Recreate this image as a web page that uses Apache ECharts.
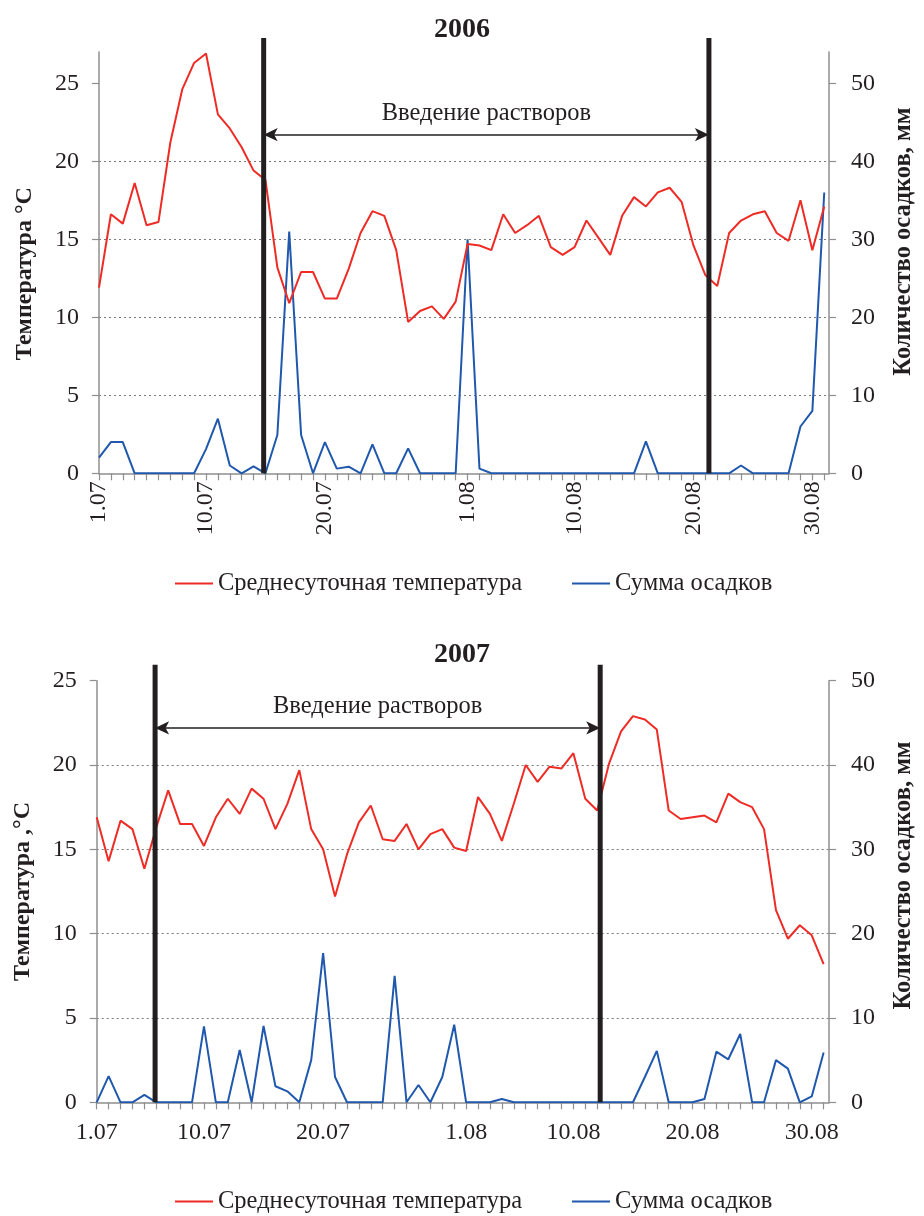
<!DOCTYPE html>
<html><head><meta charset="utf-8">
<script src="https://cdn.jsdelivr.net/npm/echarts@6/dist/echarts.min.js"></script>
<style>html,body{margin:0;padding:0;background:#fff}#c{width:924px;height:1216px}</style>
</head><body><div id="c"></div><script>
// ---- data ----
const dates = ['1.07','2.07','3.07','4.07','5.07','6.07','7.07','8.07','9.07','10.07',
  '11.07','12.07','13.07','14.07','15.07','16.07','17.07','18.07','19.07','20.07',
  '21.07','22.07','23.07','24.07','25.07','26.07','27.07','28.07','29.07','30.07','31.07',
  '1.08','2.08','3.08','4.08','5.08','6.08','7.08','8.08','9.08','10.08',
  '11.08','12.08','13.08','14.08','15.08','16.08','17.08','18.08','19.08','20.08',
  '21.08','22.08','23.08','24.08','25.08','26.08','27.08','28.08','29.08','30.08','31.08'];
const tickLabels = ['1.07','10.07','20.07','1.08','10.08','20.08','30.08'];
const tempTicks = [0,5,10,15,20,25];
const precipTicks = [0,10,20,30,40,50];

const temp2006 = [11.9,16.6,16.0,18.6,15.9,16.1,21.2,24.6,26.3,26.9,
  23.0,22.1,20.9,19.4,18.8,13.2,10.9,12.9,12.9,11.2,
  11.2,13.1,15.4,16.8,16.5,14.3,9.7,10.4,10.7,9.9,
  11.0,14.7,14.6,14.3,16.6,15.4,15.9,16.5,14.5,14.0,
  14.5,16.2,15.1,14.0,16.5,17.7,17.1,18.0,18.3,17.4,
  14.6,12.7,12.0,15.4,16.2,16.6,16.8,15.4,14.9,17.5,
  14.3,17.1];
const precip2006 = [2,4,4,0,0,0,0,0,0,3.1,
  7,1,0,0.9,0,4.9,31,4.9,0,4,
  0.6,0.85,0,3.7,0,0,3.2,0,0,0,
  0,30,0.6,0,0,0,0,0,0,0,
  0,0,0,0,0,0,4.1,0,0,0,
  0,0,0,0,1.0,0,0,0,0,6,
  8,36];
const temp2007 = [16.9,14.3,16.7,16.2,13.85,16.3,18.5,16.5,16.5,15.2,
  16.9,18.0,17.1,18.6,18.0,16.2,17.7,19.7,16.2,15.0,
  12.2,14.7,16.6,17.6,15.6,15.5,16.5,15.0,15.9,16.2,
  15.1,14.9,18.1,17.1,15.5,17.7,20.0,19.0,19.9,19.8,
  20.7,18.0,17.3,20.1,22.0,22.9,22.7,22.1,17.3,16.8,
  16.9,17.0,16.6,18.3,17.8,17.5,16.2,11.4,9.7,10.5,
  9.9,8.2];
const precip2007 = [0,3.1,0,0,0.87,0,0,0,0,9.0,
  0,0,6.2,0,9.05,1.9,1.3,0,5.0,17.7,
  3.0,0,0,0,0,15.0,0,2.05,0,3.0,
  9.2,0,0,0,0.4,0,0,0,0,0,
  0,0,0,0,0,0,3.0,6.1,0,0,
  0,0.4,6.0,5.1,8.1,0,0,5.0,4.0,0,
  0.7,5.9];
// treatment period (day position on the date axis)
const period2006 = [13.85, 51.3];
const period2007 = [4.9, 42.25];
const periodLabel = 'Введение растворов';
const years = ['2006', '2007'];
const tempAxisNames = ['Температура °С', 'Температура ,°С'];
const precipAxisName = 'Количество осадков, мм';
const seriesNames = ['Среднесуточная температура', 'Сумма осадков'];

// ---- chart ----
const FONT = 'Liberation Serif';
const INK = '#231f20';
const AXIS = '#8f8f8f';
const RED = '#ee2b25';
const BLUE = '#1f58ad';

const panels = [
  {temps: temp2006, precs: precip2006, period: period2006, tMax: 27, pMax: 54, xMax: 61.4, arrowY: 21.7, lineTop: 27.9, rotate: 90,
   grid: {left: 99, top: 52, width: 731, height: 421.3}, titleTop: 11, legendTop: 566,
   leftPad: [0, 22, 0, 0], rightPad: [0, 0, 0, 42]},
  {temps: temp2007, precs: precip2007, period: period2007, tMax: 25, pMax: 50, xMax: 61.45, arrowY: 22.2, lineTop: 25.94, rotate: 0,
   grid: {left: 96.7, top: 680.7, width: 733.3, height: 421.6}, titleTop: 636, legendTop: 1184,
   leftPad: [0, 0, 0, 0], rightPad: [0, 0, 0, 32]}
];

const option = {
  animation: false,
  backgroundColor: '#fff',
  textStyle: {fontFamily: FONT, color: INK},
  title: [], grid: [], xAxis: [], yAxis: [], series: [], legend: []
};

const labelIdx = tickLabels.map(t => dates.indexOf(t));
const dayIdx = dates.map((d, i) => i);

panels.forEach((p, k) => {
  option.title.push({text: years[k], left: 'center', top: p.titleTop,
    textStyle: {fontFamily: FONT, fontSize: 28, fontWeight: 'bold', color: INK}});
  option.grid.push(Object.assign({containLabel: false}, p.grid));
  option.xAxis.push({
    type: 'value', gridIndex: k, min: 0, max: p.xMax, interval: 1,
    axisLine: {show: true, lineStyle: {color: AXIS, width: 1.5}},
    axisTick: {show: true, length: 7, lineStyle: {color: AXIS, width: 1.2}, customValues: dayIdx},
    splitLine: {show: false},
    axisLabel: {
      customValues: labelIdx, rotate: p.rotate, margin: p.rotate ? 8 : 18,
      fontFamily: FONT, fontSize: 24, color: INK,
      formatter: v => { const i = Math.round(v); return (Math.abs(v - i) < 1e-6 && tickLabels.includes(dates[i])) ? dates[i] : ''; }
    }
  });
  option.yAxis.push({
    type: 'value', gridIndex: k, position: 'left', min: 0, max: p.tMax, interval: 5,
    name: tempAxisNames[k], nameLocation: 'middle', nameRotate: 90, nameGap: 62,
    nameTextStyle: {fontFamily: FONT, fontSize: 24, fontWeight: 'bold', color: INK, padding: p.leftPad},
    axisLine: {show: true, lineStyle: {color: AXIS, width: 1.5}},
    axisTick: {show: true, length: 7, lineStyle: {color: AXIS, width: 1.2}, customValues: tempTicks},
    axisLabel: {customValues: tempTicks, margin: 20, fontFamily: FONT, fontSize: 24, color: INK},
    splitLine: {show: true, showMinLine: false, showMaxLine: false, lineStyle: {color: '#7a7a7a', type: [2, 3], width: 1.2}}
  });
  option.yAxis.push({
    type: 'value', gridIndex: k, position: 'right', min: 0, max: p.pMax, interval: 10,
    name: precipAxisName, nameLocation: 'middle', nameRotate: 90, nameGap: 62,
    nameTextStyle: {fontFamily: FONT, fontSize: 24.5, fontWeight: 'bold', color: INK, padding: p.rightPad},
    axisLine: {show: true, lineStyle: {color: AXIS, width: 1.5}},
    axisTick: {show: true, length: 7, lineStyle: {color: AXIS, width: 1.2}, customValues: precipTicks},
    axisLabel: {customValues: precipTicks, margin: 22, fontFamily: FONT, fontSize: 24, color: INK},
    splitLine: {show: false}
  });
  option.series.push({
    name: seriesNames[0], type: 'line', xAxisIndex: k, yAxisIndex: 2 * k,
    data: p.temps.map((v, i) => [i, v]), symbol: 'none', showSymbol: false,
    lineStyle: {color: RED, width: 2}, itemStyle: {color: RED}, z: 3,
    markLine: {
      silent: true, symbol: 'none', animation: false, z: 5,
      label: {show: false},
      data: [
        [{coord: [p.period[0], p.arrowY], symbol: 'arrow', symbolSize: [10, 14],
          lineStyle: {color: INK, width: 1.5, type: 'solid'},
          label: {show: true, position: 'middle', formatter: periodLabel, distance: 9,
                  fontFamily: FONT, fontSize: 24.5, color: INK}},
         {coord: [p.period[1], p.arrowY], symbol: 'arrow', symbolSize: [10, 14]}]
      ]
    }
  });
  option.series.push({
    name: seriesNames[1], type: 'line', xAxisIndex: k, yAxisIndex: 2 * k + 1,
    data: p.precs.map((v, i) => [i, v]), symbol: 'none', showSymbol: false,
    lineStyle: {color: BLUE, width: 2}, itemStyle: {color: BLUE}, z: 2
  });
  // treatment period boundaries (thick black vertical lines)
  p.period.forEach(d => {
    option.series.push({
      name: 'period', type: 'line', xAxisIndex: k, yAxisIndex: 2 * k, clip: false, silent: true,
      data: [[d, 0], [d, p.lineTop]], symbol: 'none', showSymbol: false,
      lineStyle: {color: INK, width: 5}, z: 6
    });
  });
  option.legend.push({
    data: seriesNames, top: p.legendTop, left: 170, itemWidth: 38, itemHeight: 2, itemGap: 50,
    icon: 'rect',
    textStyle: {fontFamily: FONT, fontSize: 24.5, color: INK}
  });
});

const chart = echarts.init(document.getElementById('c'), null, {renderer: 'canvas'});
chart.setOption(option);
</script></body></html>
